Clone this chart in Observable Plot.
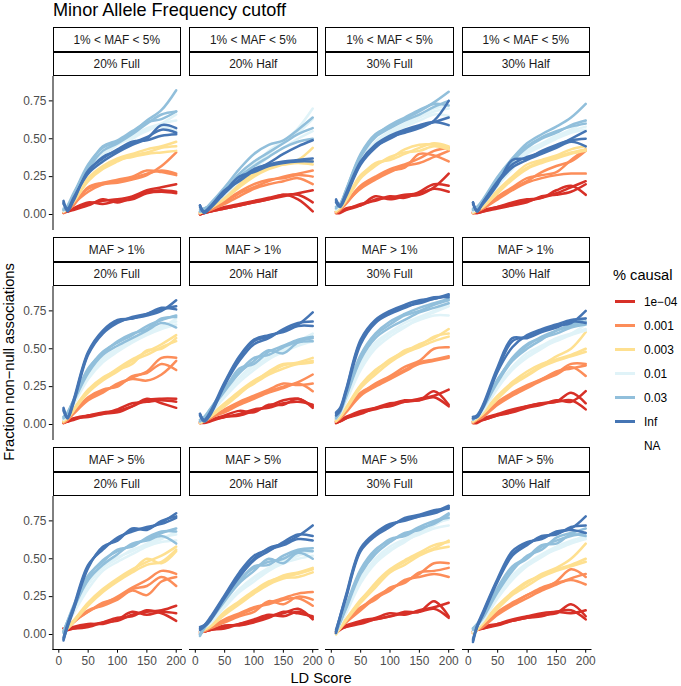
<!DOCTYPE html>
<html>
<head>
<meta charset="utf-8">
<script src="https://cdn.jsdelivr.net/npm/d3@7"></script>
<script src="https://cdn.jsdelivr.net/npm/@observablehq/plot@0.6"></script>
<style>
  body { margin: 0; background: white; }
  #chart { position: relative; width: 681px; height: 686px; font-family: "Liberation Sans", Arial, Helvetica, sans-serif; background: white; overflow: hidden; }
  #chart .abs { position: absolute; white-space: nowrap; line-height: 1; }
  #chart .strip { position: absolute; box-sizing: border-box; border: 1.1px solid #000; background: white; display: flex; align-items: center; justify-content: center; font-size: 11.9px; color: #1A1A1A; }
  #chart svg { position: absolute; }
  #chart g[aria-label^="x-axis"] text, #chart g[aria-label^="y-axis"] text { fill: #4D4D4D; }
</style>
</head>
<body>
<div id="chart"></div>
<script>
// ---- categories / labels ----
const rowLabels = ["1% < MAF < 5%", "MAF > 1%", "MAF > 5%"];
const colLabels = ["20% Full", "20% Half", "30% Full", "30% Half"];
const causalLevels = ["1e-04", "0.001", "0.003", "0.01", "0.03", "Inf"];
const causalLabels = ["1e\u221204", "0.001", "0.003", "0.01", "0.03", "Inf", "NA"];
const causalColors = ["#D73027", "#FC8D59", "#FEE090", "#E0F3F8", "#91BFDB", "#4575B4"];
const ldScore = [8, 15, 25, 50, 75, 100, 125, 150, 175, 200];
const xTicks = [0, 50, 100, 150, 200];
const yTicks = [0, 0.25, 0.5, 0.75];

// ---- series values: [causal level][replicate][LD score point] ----
const maf1to5_20Full = [
  [[0.02,0.02,0.04,0.07,0.09,0.10,0.12,0.16,0.18,0.20],[0.01,0.02,0.03,0.06,0.10,0.08,0.11,0.15,0.16,0.15],[0.02,0.02,0.04,0.08,0.07,0.09,0.10,0.14,0.15,0.14]],
  [[0.02,0.03,0.07,0.15,0.20,0.22,0.24,0.27,0.29,0.27],[0.01,0.03,0.06,0.18,0.21,0.23,0.25,0.29,0.28,0.26],[0.02,0.04,0.08,0.17,0.20,0.21,0.23,0.26,0.32,0.41]],
  [[0.02,0.04,0.09,0.24,0.32,0.37,0.40,0.43,0.45,0.48],[0.02,0.04,0.08,0.22,0.30,0.35,0.39,0.41,0.44,0.45],[0.03,0.05,0.09,0.23,0.31,0.36,0.38,0.40,0.41,0.42]],
  [[0.03,0.05,0.12,0.30,0.40,0.48,0.52,0.57,0.60,0.62],[0.03,0.04,0.10,0.28,0.38,0.46,0.51,0.55,0.60,0.66],[0.02,0.05,0.11,0.29,0.39,0.47,0.50,0.56,0.58,0.55]],
  [[0.03,0.05,0.13,0.33,0.44,0.48,0.54,0.62,0.69,0.82],[0.04,0.05,0.12,0.30,0.42,0.47,0.53,0.60,0.66,0.68],[0.03,0.06,0.14,0.31,0.45,0.49,0.55,0.61,0.63,0.68]],
  [[0.08,0.02,0.10,0.28,0.38,0.42,0.47,0.51,0.56,0.54],[0.09,0.03,0.09,0.29,0.37,0.43,0.48,0.49,0.52,0.53],[0.07,0.04,0.11,0.27,0.35,0.41,0.46,0.50,0.59,0.57]]
];
const maf1to5_20Half = [
  [[0.00,0.01,0.02,0.04,0.06,0.08,0.10,0.12,0.14,0.16],[0.01,0.01,0.02,0.05,0.07,0.09,0.11,0.13,0.13,0.08],[0.00,0.01,0.02,0.04,0.06,0.08,0.10,0.13,0.10,0.02]],
  [[0.01,0.02,0.03,0.08,0.14,0.18,0.22,0.25,0.27,0.29],[0.01,0.02,0.04,0.09,0.15,0.20,0.23,0.24,0.26,0.25],[0.01,0.02,0.03,0.07,0.12,0.17,0.20,0.22,0.24,0.20]],
  [[0.01,0.02,0.04,0.10,0.18,0.25,0.30,0.33,0.36,0.44],[0.01,0.02,0.04,0.11,0.20,0.27,0.31,0.34,0.35,0.35],[0.01,0.02,0.05,0.12,0.19,0.26,0.32,0.33,0.34,0.33]],
  [[0.02,0.03,0.05,0.14,0.24,0.32,0.40,0.48,0.57,0.70],[0.02,0.03,0.06,0.15,0.25,0.33,0.42,0.48,0.54,0.63],[0.02,0.03,0.05,0.13,0.22,0.30,0.38,0.44,0.50,0.55]],
  [[0.02,0.03,0.07,0.18,0.30,0.40,0.46,0.49,0.56,0.64],[0.02,0.04,0.06,0.16,0.27,0.35,0.41,0.47,0.53,0.57],[0.03,0.04,0.06,0.15,0.25,0.32,0.38,0.44,0.48,0.50]],
  [[0.06,0.02,0.05,0.15,0.25,0.28,0.32,0.34,0.35,0.35],[0.05,0.01,0.04,0.14,0.23,0.30,0.33,0.35,0.36,0.37],[0.06,0.02,0.05,0.16,0.22,0.29,0.34,0.40,0.45,0.49]]
];
const maf1to5_30Full = [
  [[0.01,0.02,0.03,0.06,0.12,0.10,0.12,0.13,0.18,0.27],[0.01,0.01,0.03,0.07,0.09,0.12,0.11,0.15,0.20,0.19],[0.02,0.02,0.04,0.06,0.10,0.11,0.13,0.14,0.17,0.15]],
  [[0.02,0.04,0.08,0.19,0.25,0.30,0.33,0.37,0.42,0.44],[0.01,0.03,0.07,0.18,0.24,0.29,0.31,0.40,0.39,0.35],[0.02,0.04,0.08,0.17,0.23,0.28,0.32,0.34,0.38,0.42]],
  [[0.02,0.05,0.10,0.26,0.33,0.37,0.43,0.46,0.46,0.44],[0.02,0.04,0.09,0.24,0.32,0.38,0.41,0.42,0.45,0.43],[0.03,0.05,0.10,0.25,0.34,0.36,0.40,0.44,0.47,0.45]],
  [[0.04,0.06,0.14,0.36,0.48,0.55,0.60,0.65,0.70,0.72],[0.03,0.06,0.13,0.34,0.46,0.53,0.58,0.62,0.66,0.65],[0.04,0.07,0.15,0.37,0.47,0.54,0.59,0.64,0.68,0.70]],
  [[0.05,0.07,0.16,0.40,0.53,0.58,0.63,0.68,0.74,0.81],[0.04,0.07,0.15,0.38,0.51,0.57,0.62,0.66,0.71,0.75],[0.05,0.06,0.16,0.39,0.52,0.59,0.64,0.69,0.73,0.72]],
  [[0.10,0.06,0.13,0.34,0.45,0.50,0.55,0.58,0.61,0.64],[0.08,0.05,0.12,0.33,0.44,0.51,0.54,0.57,0.62,0.75],[0.09,0.06,0.14,0.35,0.46,0.52,0.56,0.59,0.61,0.59]]
];
const maf1to5_30Half = [
  [[0.01,0.01,0.02,0.05,0.07,0.09,0.11,0.14,0.18,0.22],[0.01,0.01,0.02,0.04,0.06,0.08,0.12,0.13,0.15,0.20],[0.01,0.02,0.03,0.05,0.08,0.10,0.11,0.16,0.19,0.13]],
  [[0.01,0.02,0.04,0.10,0.16,0.21,0.24,0.26,0.27,0.27],[0.02,0.03,0.05,0.12,0.18,0.24,0.26,0.28,0.36,0.43],[0.01,0.02,0.04,0.11,0.17,0.22,0.28,0.32,0.35,0.42]],
  [[0.02,0.03,0.05,0.15,0.24,0.31,0.35,0.38,0.41,0.43],[0.02,0.03,0.06,0.16,0.25,0.33,0.36,0.39,0.43,0.45],[0.01,0.03,0.05,0.14,0.23,0.30,0.34,0.37,0.40,0.42]],
  [[0.03,0.04,0.07,0.20,0.32,0.41,0.46,0.51,0.55,0.58],[0.02,0.04,0.08,0.21,0.33,0.42,0.47,0.52,0.56,0.62],[0.03,0.04,0.07,0.19,0.30,0.40,0.45,0.50,0.54,0.56]],
  [[0.03,0.05,0.10,0.25,0.37,0.47,0.53,0.58,0.64,0.73],[0.03,0.04,0.09,0.24,0.36,0.45,0.51,0.55,0.58,0.60],[0.04,0.05,0.09,0.23,0.35,0.44,0.50,0.54,0.59,0.62]],
  [[0.08,0.02,0.08,0.22,0.33,0.38,0.41,0.45,0.50,0.55],[0.07,0.03,0.07,0.20,0.36,0.37,0.42,0.46,0.49,0.50],[0.08,0.02,0.08,0.21,0.31,0.36,0.40,0.44,0.48,0.45]]
];
const mafGt1_20Full = [
  [[0.01,0.02,0.04,0.06,0.08,0.09,0.12,0.16,0.17,0.17],[0.01,0.02,0.03,0.06,0.07,0.10,0.14,0.15,0.16,0.15],[0.02,0.02,0.04,0.05,0.07,0.08,0.12,0.17,0.14,0.11]],
  [[0.02,0.04,0.08,0.17,0.22,0.26,0.31,0.35,0.44,0.44],[0.01,0.03,0.07,0.16,0.21,0.27,0.30,0.29,0.33,0.42],[0.02,0.04,0.08,0.18,0.23,0.25,0.32,0.34,0.40,0.36]],
  [[0.02,0.05,0.10,0.22,0.30,0.37,0.43,0.48,0.53,0.59],[0.02,0.04,0.09,0.21,0.29,0.35,0.42,0.46,0.51,0.55],[0.03,0.05,0.10,0.23,0.31,0.36,0.40,0.49,0.50,0.57]],
  [[0.04,0.07,0.14,0.33,0.44,0.50,0.56,0.61,0.65,0.68],[0.03,0.06,0.13,0.30,0.41,0.48,0.54,0.59,0.63,0.66],[0.04,0.07,0.15,0.32,0.43,0.49,0.55,0.60,0.64,0.70]],
  [[0.05,0.08,0.16,0.36,0.48,0.54,0.59,0.65,0.69,0.72],[0.04,0.07,0.15,0.34,0.46,0.52,0.57,0.62,0.67,0.64],[0.05,0.08,0.16,0.37,0.47,0.55,0.60,0.63,0.70,0.71]],
  [[0.10,0.05,0.15,0.47,0.61,0.68,0.70,0.72,0.75,0.82],[0.09,0.04,0.14,0.46,0.60,0.67,0.71,0.73,0.76,0.78],[0.11,0.05,0.16,0.48,0.62,0.69,0.70,0.73,0.77,0.76]]
];
const mafGt1_20Half = [
  [[0.01,0.01,0.02,0.05,0.06,0.09,0.12,0.16,0.17,0.12],[0.01,0.02,0.03,0.05,0.07,0.10,0.11,0.14,0.15,0.13],[0.02,0.02,0.03,0.06,0.09,0.08,0.13,0.13,0.17,0.11]],
  [[0.01,0.02,0.04,0.09,0.14,0.18,0.22,0.25,0.28,0.33],[0.01,0.02,0.04,0.10,0.15,0.19,0.23,0.27,0.26,0.27],[0.02,0.03,0.05,0.08,0.13,0.17,0.21,0.24,0.27,0.22]],
  [[0.01,0.03,0.06,0.14,0.22,0.29,0.34,0.39,0.41,0.44],[0.02,0.03,0.05,0.13,0.21,0.27,0.33,0.37,0.40,0.42],[0.01,0.02,0.05,0.12,0.20,0.28,0.35,0.40,0.40,0.41]],
  [[0.02,0.04,0.08,0.20,0.30,0.38,0.44,0.49,0.54,0.58],[0.02,0.03,0.07,0.18,0.28,0.36,0.43,0.48,0.52,0.55],[0.03,0.04,0.08,0.21,0.31,0.40,0.46,0.50,0.55,0.60]],
  [[0.03,0.05,0.10,0.24,0.35,0.44,0.46,0.51,0.55,0.57],[0.02,0.04,0.09,0.22,0.34,0.42,0.49,0.47,0.54,0.55],[0.03,0.04,0.10,0.23,0.37,0.40,0.48,0.52,0.56,0.58]],
  [[0.07,0.03,0.07,0.27,0.44,0.55,0.58,0.62,0.66,0.74],[0.06,0.02,0.06,0.26,0.42,0.53,0.57,0.63,0.67,0.68],[0.07,0.03,0.08,0.28,0.45,0.56,0.59,0.61,0.65,0.65]]
];
const mafGt1_30Full = [
  [[0.01,0.02,0.04,0.08,0.10,0.13,0.16,0.16,0.22,0.13],[0.02,0.03,0.05,0.09,0.11,0.14,0.15,0.17,0.19,0.23],[0.01,0.02,0.04,0.07,0.11,0.12,0.15,0.16,0.18,0.12]],
  [[0.02,0.05,0.09,0.20,0.27,0.32,0.38,0.42,0.50,0.51],[0.02,0.04,0.08,0.19,0.25,0.30,0.35,0.40,0.42,0.44],[0.03,0.05,0.09,0.21,0.26,0.31,0.36,0.41,0.43,0.45]],
  [[0.03,0.06,0.11,0.25,0.35,0.43,0.48,0.53,0.57,0.63],[0.02,0.05,0.10,0.24,0.33,0.41,0.47,0.51,0.55,0.58],[0.03,0.05,0.11,0.26,0.36,0.42,0.49,0.52,0.58,0.60]],
  [[0.04,0.08,0.16,0.38,0.52,0.60,0.65,0.69,0.72,0.72],[0.04,0.07,0.15,0.36,0.50,0.58,0.64,0.70,0.74,0.78],[0.05,0.08,0.17,0.40,0.54,0.61,0.67,0.71,0.75,0.80]],
  [[0.05,0.09,0.19,0.45,0.59,0.66,0.72,0.75,0.79,0.82],[0.04,0.08,0.18,0.43,0.57,0.64,0.69,0.74,0.77,0.80],[0.05,0.09,0.20,0.46,0.60,0.68,0.73,0.77,0.80,0.83]],
  [[0.07,0.10,0.22,0.55,0.68,0.74,0.78,0.80,0.83,0.85],[0.06,0.09,0.21,0.53,0.67,0.73,0.77,0.81,0.84,0.84],[0.08,0.11,0.23,0.56,0.69,0.75,0.79,0.82,0.83,0.86]]
];
const mafGt1_30Half = [
  [[0.01,0.01,0.03,0.06,0.09,0.12,0.14,0.15,0.21,0.14],[0.01,0.02,0.03,0.06,0.08,0.11,0.13,0.16,0.15,0.22],[0.02,0.02,0.04,0.07,0.10,0.12,0.14,0.15,0.16,0.10]],
  [[0.02,0.03,0.06,0.14,0.20,0.25,0.30,0.34,0.40,0.40],[0.01,0.03,0.05,0.13,0.19,0.24,0.29,0.33,0.38,0.32],[0.02,0.04,0.06,0.15,0.21,0.26,0.30,0.35,0.37,0.39]],
  [[0.02,0.04,0.08,0.18,0.27,0.33,0.39,0.45,0.50,0.61],[0.02,0.04,0.07,0.17,0.26,0.32,0.38,0.42,0.45,0.48],[0.03,0.04,0.08,0.19,0.28,0.35,0.40,0.43,0.46,0.50]],
  [[0.03,0.05,0.10,0.25,0.37,0.45,0.51,0.55,0.59,0.62],[0.03,0.05,0.09,0.24,0.36,0.44,0.50,0.56,0.60,0.66],[0.04,0.05,0.10,0.26,0.38,0.47,0.52,0.57,0.60,0.63]],
  [[0.04,0.06,0.12,0.30,0.43,0.52,0.58,0.62,0.65,0.68],[0.04,0.06,0.11,0.28,0.42,0.50,0.56,0.62,0.66,0.70],[0.03,0.06,0.12,0.29,0.44,0.53,0.57,0.60,0.64,0.66]],
  [[0.05,0.05,0.12,0.36,0.55,0.58,0.62,0.65,0.67,0.75],[0.04,0.05,0.11,0.35,0.51,0.59,0.63,0.66,0.69,0.70],[0.05,0.06,0.13,0.38,0.57,0.57,0.61,0.64,0.68,0.67]]
];
const mafGt5_20Full = [
  [[0.04,0.03,0.04,0.06,0.08,0.09,0.13,0.15,0.16,0.19],[0.03,0.03,0.05,0.07,0.07,0.10,0.15,0.13,0.15,0.14],[0.04,0.04,0.04,0.05,0.08,0.11,0.12,0.16,0.14,0.09]],
  [[0.02,0.04,0.08,0.15,0.20,0.25,0.31,0.36,0.42,0.40],[0.03,0.04,0.08,0.16,0.19,0.23,0.29,0.26,0.35,0.38],[0.02,0.05,0.09,0.15,0.21,0.24,0.30,0.32,0.38,0.32]],
  [[0.02,0.05,0.09,0.21,0.30,0.37,0.43,0.48,0.52,0.58],[0.02,0.04,0.08,0.19,0.28,0.35,0.41,0.46,0.48,0.56],[0.03,0.05,0.09,0.20,0.29,0.36,0.42,0.50,0.47,0.55]],
  [[0.02,0.08,0.15,0.33,0.44,0.50,0.56,0.59,0.63,0.68],[0.03,0.07,0.14,0.30,0.42,0.48,0.53,0.58,0.61,0.62],[0.02,0.08,0.16,0.34,0.45,0.51,0.55,0.60,0.64,0.66]],
  [[0.02,0.09,0.18,0.38,0.49,0.55,0.59,0.63,0.67,0.70],[0.01,0.08,0.17,0.36,0.46,0.53,0.60,0.62,0.65,0.60],[0.02,0.09,0.19,0.39,0.48,0.56,0.58,0.64,0.68,0.68]],
  [[-0.04,0.06,0.17,0.45,0.57,0.63,0.69,0.70,0.74,0.80],[-0.02,0.07,0.18,0.46,0.56,0.64,0.68,0.71,0.73,0.77],[-0.03,0.05,0.16,0.44,0.58,0.62,0.70,0.69,0.75,0.78]]
];
const mafGt5_20Half = [
  [[0.02,0.02,0.03,0.05,0.07,0.09,0.12,0.14,0.17,0.10],[0.01,0.02,0.03,0.06,0.06,0.08,0.11,0.15,0.14,0.12],[0.02,0.02,0.03,0.04,0.07,0.10,0.13,0.12,0.15,0.11]],
  [[0.02,0.03,0.05,0.09,0.13,0.17,0.21,0.24,0.27,0.28],[0.01,0.02,0.04,0.08,0.12,0.15,0.22,0.20,0.25,0.23],[0.02,0.03,0.05,0.10,0.14,0.18,0.20,0.23,0.24,0.19]],
  [[0.02,0.03,0.06,0.14,0.21,0.28,0.34,0.39,0.41,0.44],[0.01,0.03,0.05,0.13,0.20,0.27,0.33,0.37,0.38,0.41],[0.02,0.04,0.06,0.15,0.22,0.29,0.35,0.38,0.40,0.43]],
  [[0.02,0.04,0.08,0.19,0.29,0.37,0.43,0.48,0.52,0.55],[0.01,0.04,0.07,0.18,0.28,0.35,0.42,0.47,0.50,0.52],[0.02,0.05,0.08,0.20,0.30,0.38,0.44,0.49,0.53,0.57]],
  [[0.00,0.05,0.10,0.24,0.36,0.44,0.48,0.50,0.55,0.55],[-0.01,0.04,0.09,0.22,0.34,0.42,0.50,0.47,0.54,0.50],[0.00,0.05,0.10,0.23,0.35,0.45,0.46,0.52,0.56,0.57]],
  [[0.05,0.06,0.10,0.25,0.40,0.50,0.57,0.60,0.65,0.72],[0.03,0.05,0.09,0.24,0.38,0.49,0.55,0.61,0.66,0.65],[0.04,0.06,0.11,0.26,0.41,0.52,0.56,0.59,0.63,0.62]]
];
const mafGt5_30Full = [
  [[0.01,0.04,0.05,0.08,0.10,0.12,0.15,0.15,0.22,0.12],[0.02,0.04,0.06,0.09,0.11,0.14,0.13,0.16,0.18,0.21],[0.01,0.03,0.05,0.07,0.10,0.12,0.14,0.15,0.17,0.11]],
  [[0.01,0.04,0.08,0.17,0.25,0.30,0.35,0.40,0.47,0.47],[0.02,0.04,0.08,0.16,0.24,0.29,0.36,0.38,0.40,0.38],[0.01,0.05,0.09,0.18,0.23,0.31,0.34,0.41,0.42,0.44]],
  [[0.01,0.05,0.10,0.23,0.33,0.42,0.48,0.53,0.57,0.62],[0.00,0.04,0.09,0.21,0.31,0.41,0.46,0.52,0.56,0.58],[0.01,0.05,0.10,0.22,0.34,0.43,0.49,0.54,0.59,0.61]],
  [[0.01,0.07,0.15,0.36,0.49,0.56,0.62,0.66,0.70,0.72],[0.02,0.07,0.14,0.34,0.47,0.55,0.61,0.67,0.72,0.78],[0.01,0.08,0.16,0.37,0.50,0.58,0.63,0.68,0.73,0.76]],
  [[0.02,0.08,0.18,0.42,0.55,0.63,0.65,0.70,0.73,0.79],[0.01,0.08,0.17,0.40,0.53,0.61,0.67,0.69,0.74,0.80],[0.02,0.09,0.19,0.43,0.56,0.62,0.66,0.71,0.75,0.77]],
  [[0.02,0.12,0.25,0.56,0.66,0.72,0.76,0.78,0.80,0.84],[0.01,0.11,0.24,0.55,0.65,0.71,0.77,0.79,0.82,0.83],[0.03,0.12,0.26,0.57,0.67,0.73,0.75,0.78,0.81,0.85]]
];
const mafGt5_30Half = [
  [[0.02,0.03,0.04,0.06,0.09,0.11,0.13,0.14,0.20,0.12],[0.01,0.03,0.04,0.07,0.10,0.12,0.14,0.15,0.14,0.16],[0.02,0.03,0.05,0.07,0.09,0.11,0.12,0.15,0.16,0.10]],
  [[0.02,0.03,0.06,0.14,0.20,0.26,0.30,0.35,0.43,0.38],[0.01,0.03,0.05,0.13,0.19,0.24,0.29,0.33,0.37,0.40],[0.02,0.04,0.06,0.15,0.21,0.26,0.31,0.34,0.36,0.33]],
  [[0.02,0.04,0.08,0.18,0.27,0.34,0.40,0.44,0.50,0.60],[0.01,0.03,0.07,0.17,0.26,0.32,0.38,0.42,0.45,0.48],[0.02,0.04,0.08,0.19,0.28,0.35,0.39,0.43,0.46,0.50]],
  [[0.03,0.05,0.10,0.26,0.38,0.46,0.52,0.56,0.60,0.63],[0.02,0.05,0.09,0.24,0.36,0.45,0.51,0.57,0.61,0.66],[0.03,0.06,0.10,0.27,0.39,0.47,0.53,0.58,0.62,0.64]],
  [[0.04,0.06,0.12,0.30,0.44,0.50,0.58,0.62,0.65,0.67],[0.03,0.06,0.11,0.28,0.42,0.52,0.56,0.64,0.67,0.70],[0.04,0.07,0.12,0.31,0.45,0.51,0.59,0.60,0.66,0.65]],
  [[-0.05,0.05,0.14,0.36,0.53,0.60,0.64,0.67,0.70,0.78],[-0.03,0.05,0.13,0.35,0.52,0.59,0.65,0.66,0.71,0.72],[-0.04,0.06,0.15,0.37,0.55,0.61,0.63,0.68,0.69,0.67]]
];

const panelData = [
  [maf1to5_20Full, maf1to5_20Half, maf1to5_30Full, maf1to5_30Half],
  [mafGt1_20Full, mafGt1_20Half, mafGt1_30Full, mafGt1_30Half],
  [mafGt5_20Full, mafGt5_20Half, mafGt5_30Full, mafGt5_30Half]
];

// ---- layout (pixels) ----
const colLeft = [52.5, 189, 325.3, 461.5];
const panelW = 128.5, panelH = 153;
const stripTop = [27.3, 237.3, 447.3];
const stripH = 24.5;
const xDomain = [-9.9, 209];
const yDomain = [-0.099, 0.911];
const fontStack = '"Liberation Sans", Arial, Helvetica, sans-serif';

const chart = document.getElementById("chart");

function addDiv(cls, text, css) {
  const d = document.createElement("div");
  d.className = cls;
  d.textContent = text;
  Object.assign(d.style, css);
  chart.appendChild(d);
  return d;
}

// Title
addDiv("abs", "Minor Allele Frequency cutoff", {left: "53px", top: "0.5px", fontSize: "18.1px", color: "#000"});

// Panels
for (let r = 0; r < 3; r++) {
  for (let c = 0; c < 4; c++) {
    const left = colLeft[c];
    addDiv("strip", rowLabels[r], {left: left + "px", top: stripTop[r] + "px", width: panelW + "px", height: stripH + "px"});
    addDiv("strip", colLabels[c], {left: left + "px", top: (stripTop[r] + stripH) + "px", width: panelW + "px", height: stripH + "px"});

    const rows = [];
    panelData[r][c].forEach((reps, k) => reps.forEach((vals, j) => vals.forEach((v, i) => {
      rows.push({ld: ldScore[i], frac: v, causal: causalLevels[k], id: k * 10 + j});
    })));

    const isLeft = c === 0, isBottom = r === 2;
    const mL = isLeft ? 52.5 : 0;
    const mB = isBottom ? 22 : 0;
    const svg = Plot.plot({
      width: mL + panelW,
      height: panelH + mB,
      marginLeft: mL, marginRight: 0, marginTop: 0, marginBottom: mB,
      style: {overflow: "visible", background: "transparent", fontFamily: fontStack, fontSize: "11.9px", color: "#000"},
      x: {domain: xDomain, ticks: xTicks, tickSize: 3.7, tickPadding: 2.9, label: null, line: true, axis: isBottom ? "bottom" : null},
      y: {domain: yDomain, ticks: yTicks, tickFormat: d3.format(".2f"), tickSize: 3.7, tickPadding: 2.9, label: null, line: true, axis: isLeft ? "left" : null},
      color: {domain: causalLevels, range: causalColors},
      marks: [
        Plot.line(rows, {x: "ld", y: "frac", z: "id", stroke: "causal", strokeWidth: 2.5, curve: "catmull-rom"})
      ]
    });
    svg.style.left = (left - mL) + "px";
    svg.style.top = (stripTop[r] + 2 * stripH) + "px";
    chart.appendChild(svg);
  }
}

// Axis titles
addDiv("abs", "LD Score", {left: "321px", top: "671px", fontSize: "14.67px", color: "#000", transform: "translateX(-50%)"});
addDiv("abs", "Fraction non\u2212null associations", {left: "9px", top: "362px", fontSize: "14.67px", color: "#000", transform: "translate(-50%, -50%) rotate(-90deg)"});

// Legend
addDiv("abs", "% causal", {left: "613px", top: "268.1px", fontSize: "14.67px", color: "#000"});
causalLabels.forEach((lab, i) => {
  const cy = 301.7 + 24 * i;
  if (i < causalColors.length) {
    addDiv("abs", "", {left: "615px", top: (cy - 1.3) + "px", width: "20px", height: "2.6px", background: causalColors[i]});
  }
  addDiv("abs", lab, {left: "644px", top: (cy - 5) + "px", fontSize: "11.9px", color: "#000"});
});
</script>
</body>
</html>
